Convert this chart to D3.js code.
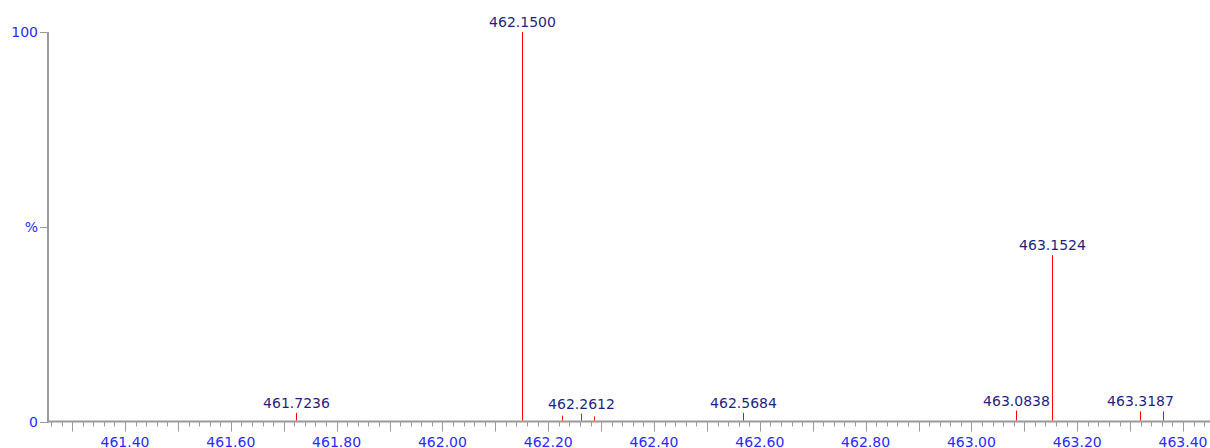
<!DOCTYPE html>
<html>
<head>
<meta charset="utf-8">
<script src="https://cdn.jsdelivr.net/npm/d3@7"></script>
<style>
  html, body { margin: 0; padding: 0; background: #fff; }
  svg { display: block; }
  text { font-family: "DejaVu Sans", Verdana, sans-serif; }
</style>
</head>
<body>
<svg id="chart" width="1210" height="448"></svg>
<script>
// ---- data ----
const mz        = [461.7236, 462.1500, 462.2255, 462.2612, 462.2872, 462.5684, 463.0838, 463.1524, 463.3187, 463.3628];
const intensity = [2.2,      100,      1.5,      2.0,      1.3,      2.2,      2.8,      42.7,     2.6,      2.6];
const peakLabels = ["461.7236", "462.1500", "", "462.2612", "", "462.5684", "463.0838", "463.1524", "463.3187", ""];
const xTickLabelValues = [461.40, 461.60, 461.80, 462.00, 462.20, 462.40, 462.60, 462.80, 463.00, 463.20, 463.40];
const yTickValues = [0, 50, 100];
const yTickLabels = ["0", "%", "100"];

// ---- layout ----
const plotLeft = 48, plotRight = 1210, plotTop = 32, plotBottom = 421.5;
const svg = d3.select("#chart");

const x = d3.scaleLinear().domain([461.2544, 463.451]).range([plotLeft, plotRight]);
const y = d3.scaleLinear().domain([0, 100]).range([plotBottom, plotTop]);

const axisColor = "#9a9a9a";
const tickLabelColor = "#2a2aff";
const peakLabelColor = "#1f1f80";

// minor ticks (every 0.02)
const minorTicks = x.ticks(100);
svg.append("g")
  .selectAll("line").data(minorTicks).join("line")
  .attr("x1", d => Math.round(x(d)) + 0.5).attr("x2", d => Math.round(x(d)) + 0.5)
  .attr("y1", plotBottom).attr("y2", plotBottom + 5)
  .attr("stroke", axisColor).attr("stroke-width", 1);

// major ticks (every 0.1)
const majorTicks = x.ticks(20);
svg.append("g")
  .selectAll("line").data(majorTicks).join("line")
  .attr("x1", d => Math.round(x(d)) + 0.5).attr("x2", d => Math.round(x(d)) + 0.5)
  .attr("y1", plotBottom).attr("y2", plotBottom + 10)
  .attr("stroke", axisColor).attr("stroke-width", 1);

// x tick labels
svg.append("g")
  .selectAll("text").data(xTickLabelValues).join("text")
  .attr("x", d => x(d)).attr("y", 446.5)
  .attr("text-anchor", "middle")
  .attr("font-size", 14)
  .attr("fill", tickLabelColor)
  .text(d => d3.format(".2f")(d));

// y ticks
svg.append("g")
  .selectAll("line").data(yTickValues).join("line")
  .attr("x1", plotLeft - 8).attr("x2", plotLeft)
  .attr("y1", d => Math.round(y(d)) + 0.5).attr("y2", d => Math.round(y(d)) + 0.5)
  .attr("stroke", axisColor).attr("stroke-width", 1);

svg.append("g")
  .selectAll("text").data(yTickValues).join("text")
  .attr("x", plotLeft - 10).attr("y", d => y(d))
  .attr("dy", "0.36em")
  .attr("text-anchor", "end")
  .attr("font-size", 14)
  .attr("fill", tickLabelColor)
  .text((d, i) => yTickLabels[i]);

// axes lines
svg.append("line")
  .attr("x1", plotLeft).attr("x2", plotLeft)
  .attr("y1", plotTop).attr("y2", plotBottom + 1)
  .attr("stroke", axisColor).attr("stroke-width", 2);
svg.append("line")
  .attr("x1", plotLeft - 1).attr("x2", plotRight)
  .attr("y1", plotBottom).attr("y2", plotBottom)
  .attr("stroke", axisColor).attr("stroke-width", 2);

// peaks
const peaks = mz.map((m, i) => ({ m, v: intensity[i], label: peakLabels[i] }));
svg.append("g")
  .selectAll("line").data(peaks).join("line")
  .attr("x1", d => Math.round(x(d.m)) + 0.5).attr("x2", d => Math.round(x(d.m)) + 0.5)
  .attr("y1", plotBottom - 1).attr("y2", d => y(d.v))
  .attr("stroke", "#ff0000").attr("stroke-width", 1);

svg.append("g")
  .selectAll("text").data(peaks.filter(d => d.label)).join("text")
  .attr("x", d => Math.round(x(d.m)) + 0.5).attr("y", d => y(d.v) - 5)
  .attr("text-anchor", "middle")
  .attr("font-size", 14)
  .attr("fill", peakLabelColor)
  .text(d => d.label);
</script>
</body>
</html>
